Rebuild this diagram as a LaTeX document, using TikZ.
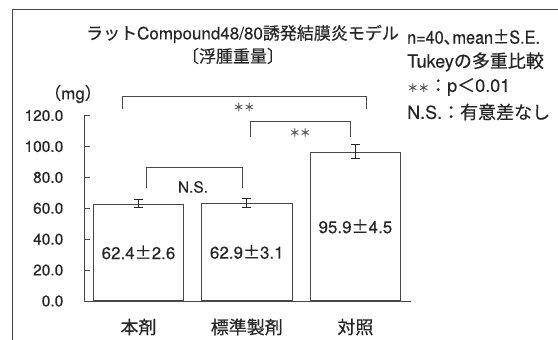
\documentclass[tikz,border=0pt]{standalone}
\usepackage{fontspec}
\setmainfont[FakeBold=0.25]{TeX Gyre Heros}
\newfontfamily\jp[FakeBold=0.4]{Noto Sans CJK JP}
\newcommand\myfs[1]{\fontsize{#1}{#1}\selectfont}
\definecolor{ink}{HTML}{262626}
\definecolor{linec}{HTML}{474747}
\definecolor{starc}{HTML}{505050}
\begin{document}
\begin{tikzpicture}[x=1pt,y=-1pt,
  txt/.style={inner sep=0pt, text=ink},
  barbox/.style={draw=linec, line width=0.9pt, minimum width=90.5pt, inner sep=0pt, text=ink, font=\myfs{17}},
  axisl/.style={draw=linec, line width=0.9pt},
  brk/.style={draw=linec, line width=0.9pt},
  errl/.style={draw=ink, line width=0.9pt},
  stars/.style={inner sep=0pt, text=starc, font=\jp\myfs{10.5}}
]
\useasboundingbox (0,0) rectangle (558,340);
% frame
\draw[draw=linec, line width=1pt] (12,340) -- (12,9) -- (558,9);
% titles
\node[txt, font=\myfs{17}] (title) at (242.5,34) {{\jp ラット}Compound48/80{\jp 誘発結膜炎モデル}};
\node[txt, font=\jp\myfs{17}] (sub) at (233,56) {〔浮腫重量〕};
\node[txt, font=\myfs{17}] (unit) at (73,94) {{\jp （}mg{\jp ）}};
% legend
\node[txt, anchor=west, font=\myfs{18}] (l1) at (407,37) {\scalebox{0.9}[1]{n=40{\jp 、}\hspace{-0.45em}mean{\jp ±}S.E.}};
\node[txt, anchor=west, font=\myfs{18}] (l2) at (407,62) {Tukey{\jp の多重比較}};
\node[txt, anchor=west, font=\myfs{18}] (l3) at (407,87) {{\jp\color{starc}\myfs{11}＊＊}{\jp ：}p{\jp ＜}0.01};
\node[txt, anchor=west, font=\myfs{18}] (l4) at (407,112) {N.S.{\jp ：有意差なし}};
% axes
\coordinate (ytop) at (84,115.6);
\coordinate (orig) at (84,301);
\coordinate (xend) at (411,301);
\draw[axisl] (ytop) -- (orig) -- (xend);
\foreach \k in {1,...,6} \draw[axisl] (84,{301-\k*30.9}) -- (89.5,{301-\k*30.9});
\foreach \k/\t in {0/0.0,1/20.0,2/40.0,3/60.0,4/80.0,5/100.0,6/120.0}
  \node[txt, anchor=east, font=\myfs{15.5}] (tl\k) at (63.5,{301-\k*30.9}) {\t};
% bars
\node[barbox, minimum height=96.4pt, anchor=south] (b1) at (138.5,301) {62.4{\jp ±}2.6};
\node[barbox, minimum height=97.2pt, anchor=south] (b2) at (246.8,301) {62.9{\jp ±}3.1};
\node[barbox, minimum height=148.2pt, anchor=south] (b3) at (355.4,301) {95.9{\jp ±}4.5};
% error bars
\newcommand\myerr[2]{%
  \draw[errl] ([yshift=#2pt]#1.north) -- ([yshift=-#2pt]#1.north)
    ([xshift=-4.5pt,yshift=#2pt]#1.north) -- ([xshift=4.5pt,yshift=#2pt]#1.north)
    ([xshift=-4.5pt,yshift=-#2pt]#1.north) -- ([xshift=4.5pt,yshift=-#2pt]#1.north);}
\myerr{b1}{4.0}
\myerr{b2}{4.8}
\myerr{b3}{7.0}
% x labels
\node[txt, font=\jp\myfs{18}] (x1) at (138.5,327) {本剤};
\node[txt, font=\jp\myfs{18}] (x2) at (246.8,327) {標準製剤};
\node[txt, font=\jp\myfs{18}] (x3) at (355.4,327) {対照};
% brackets
\coordinate (a1) at (122.7,109); \coordinate (a2) at (122.7,96.7);
\coordinate (a3) at (366,96.7);  \coordinate (a4) at (366,109);
\draw[brk] (a1) -- (a2) -- (a3) -- (a4);
\node[stars] (s1) at (244,107) {＊＊};
\coordinate (c1) at (250,136.7); \coordinate (c2) at (250,121.7);
\coordinate (c3) at (350,121.7); \coordinate (c4) at (350,136.7);
\draw[brk] (c1) -- (c2) -- (c3) -- (c4);
\node[stars] (s2) at (300,132.5) {＊＊};
\coordinate (n1) at (146,187.7); \coordinate (n2) at (146,167.7);
\coordinate (n3) at (242.3,167.7); \coordinate (n4) at (242.3,187.7);
\draw[brk] (n1) -- (n2) -- (n3) -- (n4);
\node[txt, font=\myfs{15.5}] (ns) at (193,187) {N.S.};
\end{tikzpicture}
\end{document}
